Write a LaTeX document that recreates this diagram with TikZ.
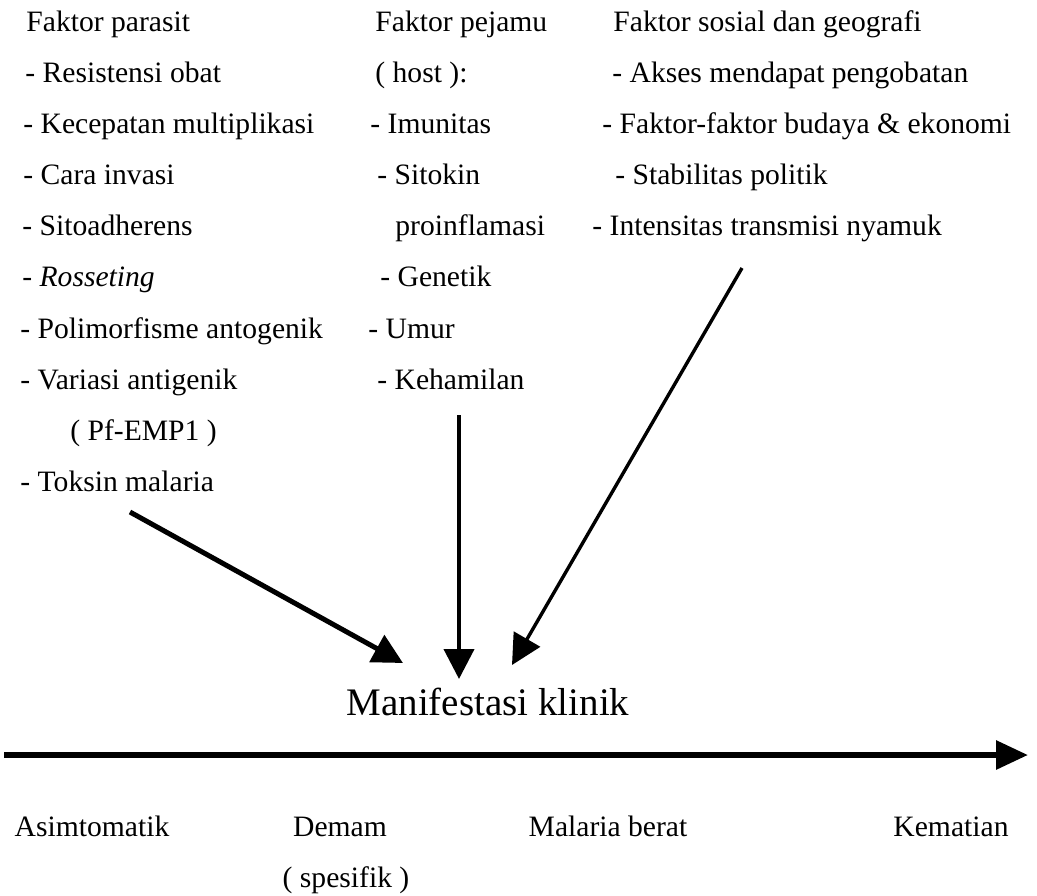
\documentclass[tikz,border=0pt]{standalone}
\usepackage{fontspec}
\setmainfont{Liberation Serif}
\usetikzlibrary{arrows.meta}

\tikzset{
  item/.style={anchor=west, inner sep=0pt, text height=2ex, text depth=0pt,
    font=\fontsize{14.8}{17}\selectfont},
  stage/.style={inner sep=0pt, text height=2ex, text depth=0pt,
    font=\fontsize{14.8}{17}\selectfont},
  flow/.style={-{Triangle[length=15pt,width=15pt]}},
}

\begin{document}
\begin{tikzpicture}[x=0.5pt,y=-0.5pt]
    % frame
    \useasboundingbox (0,0) rectangle (1037,895);
    % faktor parasit
    \node[item] (par0) at (26,22) {Faktor parasit};
    \foreach \i/\x/\y/\txt in {1/25/73/{- Resistensi obat}, 2/23/124/{- Kecepatan multiplikasi},
        3/23/175/{- Cara invasi}, 4/22/226/{- Sitoadherens}, 5/22/277/{- \textit{Rosseting}},
        6/20/329/{- Polimorfisme antogenik}, 7/20/380/{- Variasi antigenik},
        8/70/431/{( Pf-EMP1 )}, 9/20/482/{- Toksin malaria}}
      \node[item] (par\i) at (\x,\y) {\txt};
    % faktor pejamu
    \node[item] (host0) at (375,22) {Faktor pejamu};
    \foreach \i/\x/\y/\txt in {1/375/73/{( host ):}, 2/370/124/{- Imunitas},
        3/377/175/{- Sitokin}, 4/395/226/{proinflamasi}, 5/380/277/{- Genetik},
        6/368/329/{- Umur}, 7/377/380/{- Kehamilan}}
      \node[item] (host\i) at (\x,\y) {\txt};
    % faktor sosial dan geografi
    \node[item] (sos0) at (613,22) {Faktor sosial dan geografi};
    \foreach \i/\x/\y/\txt in {1/612/73/{- Akses mendapat pengobatan},
        2/602/124/{- Faktor-faktor budaya \& ekonomi}, 3/615/175/{- Stabilitas politik},
        4/592/226/{- Intensitas transmisi nyamuk}}
      \node[item] (sos\i) at (\x,\y) {\txt};
    % manifestasi
    \node[inner sep=0pt, text height=2.2ex, text depth=0pt,
      font=\fontsize{19.5}{22}\selectfont] (klinik) at (488,705) {Manifestasi klinik};
    % arrow ends
    \coordinate (parT) at (130,512);
    \coordinate (parH) at (403,663);
    \coordinate (hostT) at (459,415);
    \coordinate (hostH) at (459,679);
    \coordinate (sosT) at (742,268);
    \coordinate (sosH) at (512,665);
    \draw[flow, line width=2.5pt] (parT) -- (parH);
    \draw[flow, line width=2pt] (hostT) -- (hostH);
    \draw[flow, line width=1.7pt] (sosT) -- (sosH);
    % axis
    \coordinate (axL) at (4,755);
    \coordinate (axR) at (1028,755);
    \draw[line width=3pt, -{Triangle[length=16pt,width=14pt]}] (axL) -- (axR);
    % stages
    \node[stage] (asim) at (92,827) {Asimtomatik};
    \node[stage] (demam) at (340,827) {Demam};
    \node[stage] (spes) at (346,878) {( spesifik )};
    \node[stage] (berat) at (608,827) {Malaria berat};
    \node[stage] (mati) at (951,827) {Kematian};
\end{tikzpicture}
\end{document}
